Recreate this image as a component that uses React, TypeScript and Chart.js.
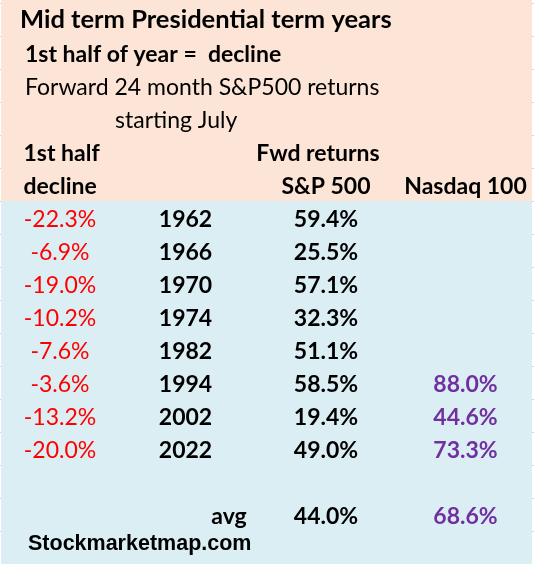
import React, { useEffect, useRef } from "react";
import { Chart, registerables } from "chart.js";

Chart.register(...registerables);

// ---------- data ----------
const titleLines = [
  "Mid term Presidential term years",
  "1st half of year =  decline",
  "Forward 24 month S&P500 returns",
  "starting July",
];
const headerTop = ["1st half", "Fwd returns"];
const headerBottom = ["decline", "S&P 500", "Nasdaq 100"];
const years = ["1962", "1966", "1970", "1974", "1982", "1994", "2002", "2022"];
const firstHalfDecline = [-22.3, -6.9, -19.0, -10.2, -7.6, -3.6, -13.2, -20.0];
const spFwdReturns = [59.4, 25.5, 57.1, 32.3, 51.1, 58.5, 19.4, 49.0];
const nasdaqFwdReturns: (number | null)[] = [null, null, null, null, null, 88.0, 44.6, 73.3];
const avgLabel = "avg";
const spAverage = 44.0;
const nasdaqAverage = 68.6;
const creditText = "Stockmarketmap.com";

// ---------- layout / style ----------
const W = 534;
const H = 564;
const ROW_PX = 33;
const FIRST_ROW_CENTER = 19.5;
const Y_MIN = -FIRST_ROW_CENTER / ROW_PX;
const Y_MAX = Y_MIN + H / ROW_PX;
const HEADER_ROWS = 6; // rows 0..5 peach
const DATA_START = 6;
const AVG_ROW = 15;
const CREDIT_ROW = 15.77;

const COL = {
  titleLeft: 20,
  subLeft: 25,
  julyLeft: 115,
  halfLeft: 23.5,
  decline: 60,
  year: 185.5,
  fwdHeader: 318,
  sp: 326,
  nasdaq: 465.5,
  avg: 229,
  creditLeft: 28,
};

const FONT = "Lato";
const PEACH = "#FCE4D6";
const BLUE = "#DAEEF3";
const GRID = "#D4D4D4";
const RED = "#FF0000";
const PURPLE = "#7030A0";
const BLACK = "#000000";

type Cell = { x: number; y: number; text: string };

const pct = (v: number) => `${v.toFixed(1)}%`;

function textDataset(
  label: string,
  cells: Cell[],
  style: { font: string; color: string; align: CanvasTextAlign; baseline: number }
) {
  return {
    label,
    data: cells,
    pointRadius: 0,
    pointHoverRadius: 0,
    showLine: false,
    cellStyle: style,
  } as any;
}

const cellTextPlugin = {
  id: "cellText",
  beforeDraw(chart: any) {
    const { ctx, scales } = chart;
    const y = scales.y;
    const top = 0;
    const split = y.getPixelForValue(HEADER_ROWS - 0.5);
    ctx.save();
    ctx.strokeStyle = GRID;
    ctx.lineWidth = 1;
    for (let r = 0; r <= 17; r++) {
      const py = Math.round(y.getPixelForValue(r - 0.5)) + 0.5;
      ctx.beginPath();
      ctx.moveTo(0, py);
      ctx.lineTo(W, py);
      ctx.stroke();
    }
    ctx.fillStyle = PEACH;
    ctx.fillRect(1, top, 531, split - top);
    ctx.fillStyle = BLUE;
    ctx.fillRect(1, split, 531, H - split);
    ctx.restore();
  },
  afterDatasetsDraw(chart: any) {
    const { ctx } = chart;
    chart.data.datasets.forEach((ds: any, i: number) => {
      const meta = chart.getDatasetMeta(i);
      const st = ds.cellStyle;
      if (!st) return;
      ctx.save();
      ctx.font = st.font;
      ctx.fillStyle = st.color;
      ctx.textAlign = st.align;
      ctx.textBaseline = "alphabetic";
      meta.data.forEach((el: any, j: number) => {
        const cell = ds.data[j] as Cell;
        ctx.fillText(cell.text, el.x, el.y + st.baseline);
      });
      ctx.restore();
    });
  },
};

export default function App() {
  const ref = useRef<HTMLCanvasElement | null>(null);

  useEffect(() => {
    document.body.style.margin = "0";
    if (!ref.current) return;

    const titleCells: Cell[] = [{ x: COL.titleLeft, y: 0, text: titleLines[0] }];
    const subBoldCells: Cell[] = [{ x: COL.subLeft, y: 1, text: titleLines[1] }];
    const subCells: Cell[] = [
      { x: COL.subLeft, y: 2, text: titleLines[2] },
      { x: COL.julyLeft, y: 3, text: titleLines[3] },
    ];
    const headerLeftCells: Cell[] = [
      { x: COL.halfLeft, y: 4, text: headerTop[0] },
      { x: COL.halfLeft, y: 5, text: headerBottom[0] },
    ];
    const headerCenterCells: Cell[] = [
      { x: COL.fwdHeader, y: 4, text: headerTop[1] },
      { x: COL.sp, y: 5, text: headerBottom[1] },
      { x: COL.nasdaq, y: 5, text: headerBottom[2] },
    ];
    const declineCells: Cell[] = firstHalfDecline.map((v, i) => ({
      x: COL.decline,
      y: DATA_START + i,
      text: pct(v),
    }));
    const yearCells: Cell[] = years.map((v, i) => ({ x: COL.year, y: DATA_START + i, text: v }));
    const spCells: Cell[] = spFwdReturns.map((v, i) => ({ x: COL.sp, y: DATA_START + i, text: pct(v) }));
    spCells.push({ x: COL.sp, y: AVG_ROW, text: pct(spAverage) });
    const avgCells: Cell[] = [{ x: COL.avg, y: AVG_ROW, text: avgLabel }];
    const nasdaqCells: Cell[] = [];
    nasdaqFwdReturns.forEach((v, i) => {
      if (v !== null) nasdaqCells.push({ x: COL.nasdaq, y: DATA_START + i, text: pct(v) });
    });
    nasdaqCells.push({ x: COL.nasdaq, y: AVG_ROW, text: pct(nasdaqAverage) });
    const creditCells: Cell[] = [{ x: COL.creditLeft, y: CREDIT_ROW, text: creditText }];

    const bold = `bold 23px ${FONT}`;
    const reg = `23px ${FONT}`;

    const chart = new Chart(ref.current, {
      type: "scatter",
      data: {
        datasets: [
          textDataset("title", titleCells, { font: `bold 25.5px ${FONT}`, color: BLACK, align: "left", baseline: 8.2 }),
          textDataset("sub1", subBoldCells, { font: bold, color: BLACK, align: "left", baseline: 9.6 }),
          textDataset("sub2", subCells, { font: reg, color: BLACK, align: "left", baseline: 9.6 }),
          textDataset("hdrL", headerLeftCells, { font: bold, color: BLACK, align: "left", baseline: 9.6 }),
          textDataset("hdrC", headerCenterCells, { font: bold, color: BLACK, align: "center", baseline: 9.6 }),
          textDataset("decline", declineCells, { font: reg, color: RED, align: "center", baseline: 9.6 }),
          textDataset("year", yearCells, { font: bold, color: BLACK, align: "center", baseline: 9.6 }),
          textDataset("sp", spCells, { font: bold, color: BLACK, align: "center", baseline: 9.6 }),
          textDataset("avg", avgCells, { font: bold, color: BLACK, align: "center", baseline: 9.6 }),
          textDataset("nasdaq", nasdaqCells, { font: bold, color: PURPLE, align: "center", baseline: 9.6 }),
          textDataset("credit", creditCells, { font: `bold 21.5px "Liberation Sans", Arial, sans-serif`, color: BLACK, align: "left", baseline: 9.6 }),
        ],
      },
      options: {
        responsive: false,
        animation: false,
        events: [],
        layout: { padding: 0 },
        plugins: { legend: { display: false }, tooltip: { enabled: false }, title: { display: false } },
        scales: {
          x: { type: "linear", display: false, min: 0, max: W },
          y: { type: "linear", display: false, reverse: true, min: Y_MIN, max: Y_MAX },
        },
      },
      plugins: [cellTextPlugin],
    });

    return () => chart.destroy();
  }, []);

  return (
    <div style={{ width: W, height: H }}>
      <canvas ref={ref} width={W} height={H} style={{ display: "block", width: W, height: H }} />
    </div>
  );
}
